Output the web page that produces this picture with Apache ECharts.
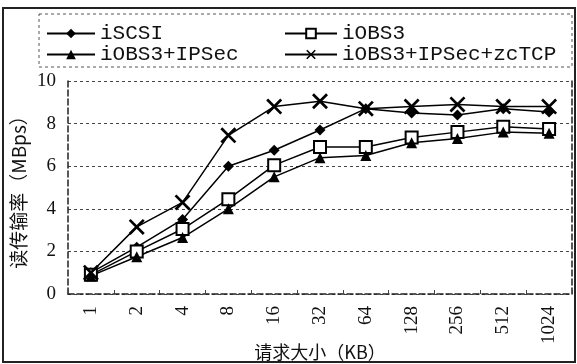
<!DOCTYPE html>
<html><head><meta charset="utf-8">
<script src="https://cdn.jsdelivr.net/npm/echarts@6/dist/echarts.min.js"></script>
<style>html,body{margin:0;padding:0;background:#fff}#c{width:577px;height:364px}</style>
</head><body><div id="c"></div>
<script>
const categories = ['1','2','4','8','16','32','64','128','256','512','1024'];
const iSCSI = [1.0, 2.2, 3.5, 6.0, 6.75, 7.7, 8.7, 8.5, 8.4, 8.7, 8.55];
const iOBS3 = [0.9, 2.0, 3.05, 4.45, 6.05, 6.9, 6.9, 7.35, 7.6, 7.85, 7.75];
const iOBS3IPSec = [0.85, 1.75, 2.65, 4.0, 5.5, 6.4, 6.5, 7.1, 7.3, 7.6, 7.55];
const iOBS3IPSecZc = [1.0, 3.15, 4.3, 7.45, 8.8, 9.05, 8.7, 8.8, 8.9, 8.8, 8.8];
const yTicks = [0, 10, 2];

const serif = 'Liberation Serif';
const mono = 'Liberation Mono';
const cjk = 'Noto Sans CJK SC';
const crossPath = 'path://M0,1.2L1.2,0L10,8.8L8.8,10Z M8.8,0L10,1.2L1.2,10L0,8.8Z';

function mk(name, data, symbol, size, extra) {
  return Object.assign({
    name, type: 'line', data, symbol, symbolSize: size, showAllSymbol: true,
    lineStyle: { color: '#000', width: 1.5 },
    itemStyle: { color: '#000' },
    emphasis: { disabled: true }
  }, extra || {});
}

const legendText = { fontFamily: mono, fontSize: 21, color: '#111' };
const chart = echarts.init(document.getElementById('c'), null, { renderer: 'canvas' });
chart.setOption({
  animation: false,
  backgroundColor: '#fff',
  grid: { left: 68, right: 5, top: 81, bottom: 70, containLabel: false, outerBoundsMode: 'none' },
  legend: [
    { data: ['iSCSI', 'iOBS3+IPSec'], orient: 'vertical', left: 41, top: 18, itemGap: 0, itemWidth: 48, itemHeight: 12,
      textStyle: legendText, selectedMode: false },
    { data: ['iOBS3', 'iOBS3+IPSec+zcTCP'], orient: 'vertical', left: 279, top: 18, itemGap: 0, itemWidth: 52, itemHeight: 12,
      textStyle: legendText, selectedMode: false }
  ],
  xAxis: {
    type: 'category', data: categories, boundaryGap: true,
    name: '请求大小（KB）', nameLocation: 'middle', nameGap: 49, nameMoveOverlap: false,
    nameTextStyle: { fontFamily: cjk, fontSize: 18, color: '#111' },
    axisLine: { lineStyle: { color: '#222', width: 1.5, type: 'dashed' } },
    axisTick: { show: true, inside: true, length: 4, lineStyle: { color: '#444' } },
    axisLabel: { rotate: 90, fontFamily: serif, fontSize: 19, color: '#111', margin: 12 },
    splitLine: { show: false }
  },
  yAxis: [
    { type: 'value', min: yTicks[0], max: yTicks[1], interval: yTicks[2],
      name: '读传输率（MBps）', nameLocation: 'middle', nameGap: 40, nameRotate: 90, nameMoveOverlap: false,
      nameTextStyle: { fontFamily: cjk, fontSize: 19, color: '#111' },
      axisLine: { show: true, lineStyle: { color: '#222', width: 1.5, type: 'dashed' } },
      axisTick: { show: false },
      axisLabel: { fontFamily: serif, fontSize: 19, color: '#111', margin: 12 },
      splitLine: { show: true, lineStyle: { color: '#444', width: 1, type: [3, 3] } }
    },
    { type: 'value', min: yTicks[0], max: yTicks[1], interval: yTicks[2], position: 'right',
      axisLine: { show: true, lineStyle: { color: '#222', width: 1.5, type: 'dashed' } },
      axisTick: { show: false }, axisLabel: { show: false }, splitLine: { show: false }
    }
  ],
  graphic: [
    { type: 'rect', shape: { x: 3, y: 8, width: 572, height: 354 }, silent: true,
      style: { fill: 'none', stroke: '#222', lineWidth: 2 } },
    { type: 'rect', shape: { x: 39, y: 14, width: 533, height: 53 }, silent: true,
      style: { fill: 'none', stroke: '#555', lineWidth: 1, lineDash: [3, 3] } }
  ],
  series: [
    mk('iSCSI', iSCSI, 'diamond', 11),
    mk('iOBS3', iOBS3, 'rect', 12, { itemStyle: { color: '#fff', borderColor: '#000', borderWidth: 2 } }),
    mk('iOBS3+IPSec', iOBS3IPSec, 'triangle', 11),
    mk('iOBS3+IPSec+zcTCP', iOBS3IPSecZc, crossPath, 16)
  ]
});
</script></body></html>
